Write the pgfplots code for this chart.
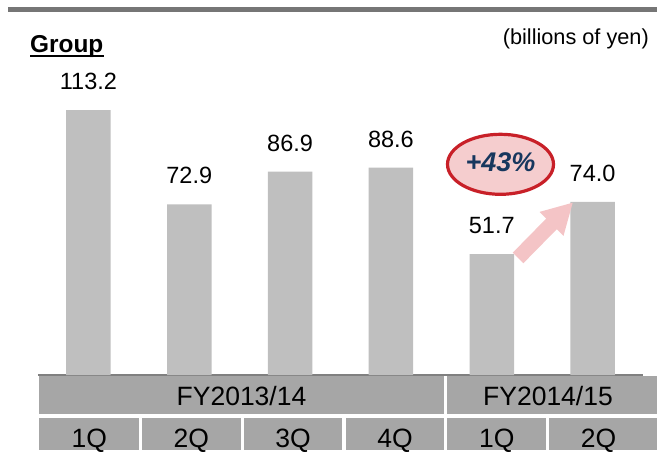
\documentclass[border=0pt]{standalone}
\usepackage{fontspec}
\setmainfont{Liberation Sans}
\usepackage{pgfplots}
\pgfplotsset{compat=1.18}
\definecolor{barcol}{RGB}{191,191,191}
\definecolor{cellcol}{RGB}{166,166,166}
\definecolor{rulecol}{RGB}{118,118,118}
\definecolor{axiscol}{RGB}{128,128,128}
\definecolor{ellfill}{RGB}{245,205,206}
\definecolor{elldraw}{RGB}{200,32,40}
\definecolor{arrowcol}{RGB}{244,196,198}
\definecolor{navy}{RGB}{23,55,94}
\begin{document}
\begin{tikzpicture}
\begin{scope}[x=1pt,y=1pt]
\path[use as bounding box] (0,0) rectangle (657,450);
% top rule
\fill[rulecol] (8,438) rectangle (657,443);
% title
\node[anchor=base west, inner sep=0pt, font=\bfseries\fontsize{24.4}{28}\selectfont] at (30,397.5) {Group};
\fill[black] (30,392.5) rectangle (103.5,395);
\node[anchor=base east, inner sep=0pt, font=\fontsize{21.7}{26}\selectfont] at (649,405) {(billions of yen)};
% table cells
\fill[cellcol] (39,35.7) rectangle (443.95,74);
\fill[cellcol] (447.25,35.7) rectangle (657,74);
\foreach \a/\b in {39/139, 142.3/240.65, 243.95/342.3, 345.6/443.95, 447.25/545.6, 548.9/657}
  \fill[cellcol] (\a,0) rectangle (\b,32.3);
\node[anchor=base, inner sep=0pt, font=\fontsize{26.5}{30}\selectfont] at (241.5,45) {FY2013/14};
\node[anchor=base, inner sep=0pt, font=\fontsize{26.5}{30}\selectfont] at (548,45) {FY2014/15};
\end{scope}
\begin{axis}[
  at={(38pt,75pt)}, anchor=south west,
  scale only axis, width=605pt, height=280.8pt,
  xmin=-0.5, xmax=5.5, ymin=0, ymax=120,
  enlargelimits=false,
  ybar, bar width=44.5pt,
  axis x line*=bottom, axis y line=none,
  x axis line style={draw=axiscol, line width=2pt, -},
  ytick=\empty,
  xtick={0.01,1.02,2.03,3.04,4.05,5.06},
  xticklabels={1Q,2Q,3Q,4Q,1Q,2Q},
  xtick style={draw=none},
  xticklabel style={anchor=base, inner sep=0pt, yshift=-68.2pt, font=\fontsize{26.5}{30}\selectfont},
  nodes near coords={\pgfmathprintnumber[fixed,fixed zerofill,precision=1,assume math mode=true]{\pgfplotspointmeta}},
  nodes near coords style={anchor=south, inner sep=0pt, yshift=20pt, font=\fontsize{23.5}{27}\selectfont, text=black},
  clip=false,
]
\addplot[fill=barcol, draw=none] coordinates {(0,113.2) (1,72.9) (2,86.9) (3,88.6) (4,51.7) (5,74.0)};
\end{axis}
\begin{scope}[x=1pt,y=1pt]
\fill[arrowcol] (512.7,197.3) -- (546.2,231.4) -- (539.5,238.1) -- (572.7,247.3) -- (563.5,214.1) -- (556.8,220.8) -- (523.3,186.7) -- cycle;
\draw[elldraw, line width=3.2pt, fill=ellfill] (500.5,285.7) ellipse [x radius=53, y radius=30];
\node[anchor=base, inner sep=0pt, text=navy, font=\bfseries\itshape\fontsize{27}{30}\selectfont] at (500.5,278.5) {+43\%};
\end{scope}
\end{tikzpicture}
\end{document}
